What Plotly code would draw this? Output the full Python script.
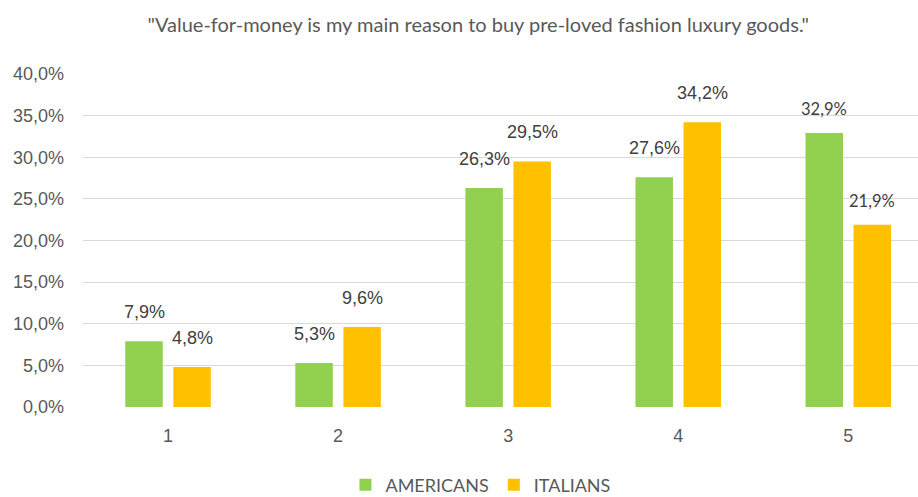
import plotly.graph_objects as go

# Survey answers on a 1-5 agreement scale
categories = ["1", "2", "3", "4", "5"]
americans = [7.9, 5.3, 26.3, 27.6, 32.9]
italians = [4.8, 9.6, 29.5, 34.2, 21.9]
y_ticks = [0, 5, 10, 15, 20, 25, 30, 35, 40]

GREEN = "#92D050"
YELLOW = "#FFC000"
GREY_TEXT = "#595959"
LABEL_TEXT = "#404040"


def pct(v):
    return f"{v:.1f}".replace(".", ",") + "%"


fig = go.Figure()
fig.add_trace(go.Bar(name="AMERICANS", x=categories, y=americans,
                     marker=dict(color=GREEN, line=dict(width=0))))
fig.add_trace(go.Bar(name="ITALIANS", x=categories, y=italians,
                     marker=dict(color=YELLOW, line=dict(width=0))))

# Value labels above each bar (last group uses a smaller face)
annotations = []
for series, shift in ((americans, -24), (italians, 24)):
    for i, v in enumerate(series):
        small = i == 4
        annotations.append(dict(
            x=i, y=v, xref="x", yref="y", text=pct(v), showarrow=False,
            xshift=shift, yshift=24 if small else 29, yanchor="middle",
            font=dict(family="Lato" if small else "Liberation Sans, Arial",
                      size=16.5 if small else 18, color=LABEL_TEXT),
        ))

fig.update_layout(
    width=918, height=497,
    margin=dict(l=83, r=0, t=74, b=90, autoexpand=False),
    paper_bgcolor="white", plot_bgcolor="white",
    barmode="group", bargap=0.435, bargroupgap=0.22,
    separators=",.",
    title=dict(text='"Value-for-money is my main reason to buy pre-loved fashion luxury goods."',
               x=0.521, xanchor="center", y=1 - 25 / 497, yanchor="middle",
               font=dict(family="Lato", size=20, color=GREY_TEXT)),
    legend=dict(orientation="h", x=0.476, xanchor="center",
                yref="container", y=1 - 485 / 497, yanchor="middle",
                font=dict(family="Lato", size=18, color=GREY_TEXT),
                tracegroupgap=0, bgcolor="rgba(0,0,0,0)"),
    annotations=annotations,
    showlegend=True,
)
fig.update_xaxes(type="category", range=[-0.5, 4.41], showgrid=False, zeroline=False,
                 showline=False, ticks="", ticklabelstandoff=16,
                 tickfont=dict(family="Liberation Sans, Arial", size=18, color=GREY_TEXT))
fig.update_yaxes(range=[0, 40], tickvals=y_ticks,
                 ticktext=[pct(t) for t in y_ticks],
                 showgrid=True, gridcolor="#D9D9D9", gridwidth=1.2, zeroline=False,
                 showline=False, ticks="", ticklabelstandoff=18,
                 tickfont=dict(family="Liberation Sans, Arial", size=18, color=GREY_TEXT))

fig.write_html("out.html")
